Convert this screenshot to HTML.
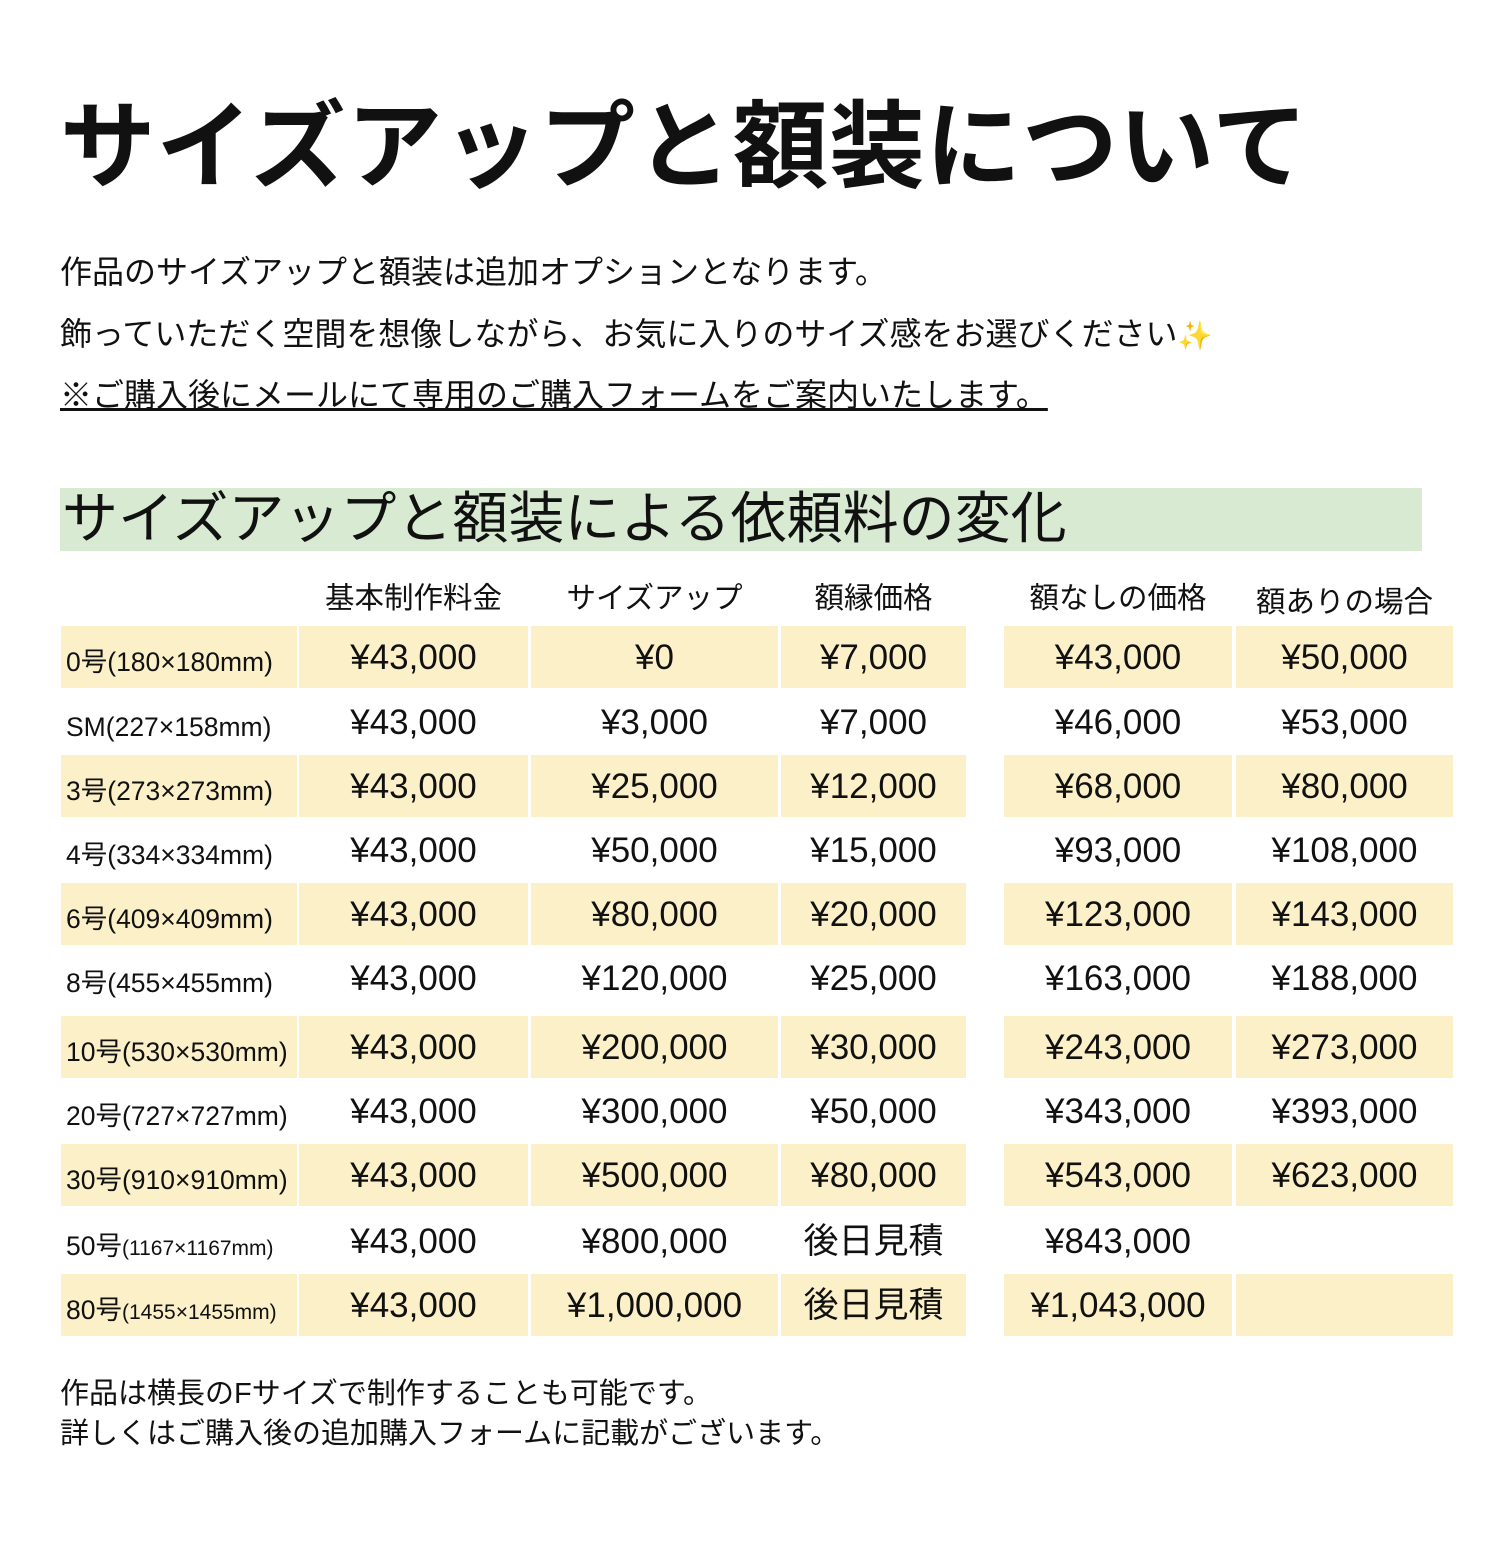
<!DOCTYPE html>
<html><head><meta charset="utf-8"><style>
body{margin:0;width:1510px;height:1558px;background:#fff;position:relative;overflow:hidden;font-family:"Liberation Sans","Noto Sans CJK JP",sans-serif;color:#111}
.a{position:absolute;white-space:nowrap}
.c{position:absolute;height:62px;line-height:64px;text-align:center;font-size:35px}
.y{background:#fcf0c8}
.l{position:absolute;height:62px;line-height:72px;font-size:26.5px;left:66px}
.h{position:absolute;top:575px;font-size:29.5px;text-align:center}
</style></head><body>
<div class="a" style="left:60px;top:69px;font-size:95.5px;font-weight:bold;letter-spacing:1px">サイズアップと額装について</div>
<div class="a" style="left:60px;top:247px;font-size:32px">作品のサイズアップと額装は追加オプションとなります。</div>
<div class="a" style="left:60px;top:309px;font-size:32px">飾っていただく空間を想像しながら、お気に入りのサイズ感をお選びください<span style="color:#f0c000;font-size:28px">✨</span></div>
<div class="a" style="left:60px;top:370px;font-size:32px;text-decoration:underline">※ご購入後にメールにて専用のご購入フォームをご案内いたします。</div>
<div class="a" style="left:60px;top:488px;width:1362px;height:63px;background:#d9ead3"></div>
<div class="a" style="left:62px;top:487px;font-size:56px;line-height:63px">サイズアップと額装による依頼料の変化</div>
<div class="h" style="left:299px;width:229px">基本制作料金</div>
<div class="h" style="left:531px;width:247px">サイズアップ</div>
<div class="h" style="left:781px;width:185px">額縁価格</div>
<div class="h" style="left:1004px;width:228px">額なしの価格</div>
<div class="h" style="left:1236px;width:217px;top:579px">額ありの場合</div>
<div id="t"></div>
<div class="a" style="left:60px;top:1374px;font-size:29px;line-height:40px">作品は横長のFサイズで制作することも可能です。<br>詳しくはご購入後の追加購入フォームに記載がございます。</div>
<script>
var rows=[
["0号(180×180mm)","¥43,000","¥0","¥7,000","¥43,000","¥50,000"],
["SM(227×158mm)","¥43,000","¥3,000","¥7,000","¥46,000","¥53,000"],
["3号(273×273mm)","¥43,000","¥25,000","¥12,000","¥68,000","¥80,000"],
["4号(334×334mm)","¥43,000","¥50,000","¥15,000","¥93,000","¥108,000"],
["6号(409×409mm)","¥43,000","¥80,000","¥20,000","¥123,000","¥143,000"],
["8号(455×455mm)","¥43,000","¥120,000","¥25,000","¥163,000","¥188,000"],
["10号(530×530mm)","¥43,000","¥200,000","¥30,000","¥243,000","¥273,000"],
["20号(727×727mm)","¥43,000","¥300,000","¥50,000","¥343,000","¥393,000"],
["30号(910×910mm)","¥43,000","¥500,000","¥80,000","¥543,000","¥623,000"],
["50号<small>(1167×1167mm)</small>","¥43,000","¥800,000","後日見積","¥843,000",""],
["80号<small>(1455×1455mm)</small>","¥43,000","¥1,000,000","後日見積","¥1,043,000",""]];
var tops=[626,691,755,819,883,947,1016,1080,1144,1210,1274];
var cols=[[299,229],[531,247],[781,185],[1004,228],[1236,217]];
var h="";
rows.forEach(function(r,i){var t=tops[i],y=i%2==0;
 if(y)h+='<div class="a y" style="left:61px;top:'+t+'px;width:236px;height:62px"></div>';
 h+='<div class="l" style="top:'+t+'px">'+r[0].replace('<small>','<span style="font-size:21px">').replace('</small>','</span>')+'</div>';
 cols.forEach(function(c,j){h+='<div class="c'+(y?' y':'')+'" style="left:'+c[0]+'px;top:'+t+'px;width:'+c[1]+'px">'+r[j+1]+'</div>';});
});
document.getElementById("t").innerHTML=h;
</script>
</body></html>
